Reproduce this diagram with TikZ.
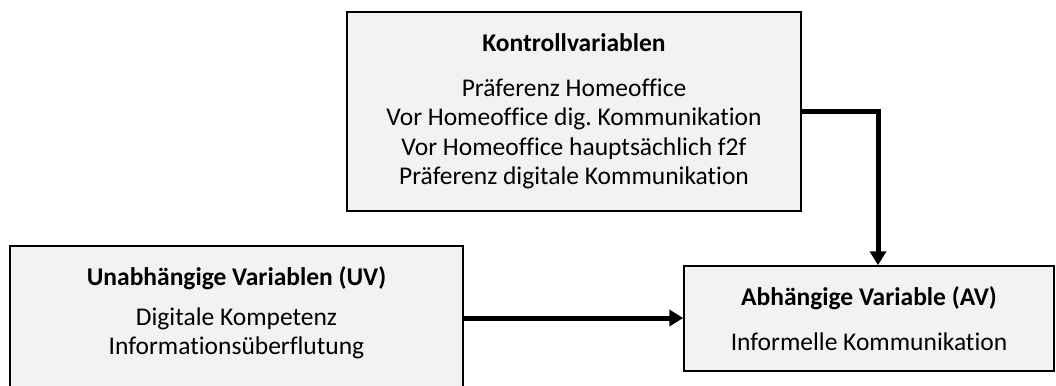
\documentclass[tikz,border=0pt]{standalone}
\usepackage{fontspec}
\setmainfont{Carlito}[Ligatures=NoCommon]
\usetikzlibrary{arrows.meta, positioning, calc}
\definecolor{boxGray}{RGB}{242,242,242}
\tikzset{varBox/.style={shape=rectangle, draw=black, line width=1.5pt, fill=boxGray, align=center, inner sep=0pt, font=\fontsize{25.5}{29.5}\selectfont}}
\tikzset{effectArrow/.style={line width=5pt, -{Triangle[width=16pt,length=14pt]}}}

\begin{document}
\begin{tikzpicture}[x=1pt, y=-1pt]

\useasboundingbox (0,0) rectangle (1056,385);
\clip (0,0) rectangle (1056,385);

% Control variables
\node[varBox, minimum width=454pt, minimum height=199pt] (kv) at (574,111.5)
  {\textbf{Kontrollvariablen}\\[15pt]
   Präferenz Homeoffice\\
   Vor Homeoffice dig.\ Kommunikation\\
   Vor Homeoffice hauptsächlich f2f\\
   Präferenz digitale Kommunikation};

% Independent variables (box runs past the lower edge)
\node[varBox, minimum width=453pt, minimum height=144pt] (uv) at (236.5,318)
  {\textbf{Unabhängige Variablen (UV)}\\[10pt]
   Digitale Kompetenz\\
   Informationsüberflutung\rule[-14pt]{0pt}{14pt}};

% Dependent variable
\node[varBox, minimum width=370pt, minimum height=105pt] (av) at (869,318.5)
  {\textbf{Abhängige Variable (AV)}\\[16pt]
   Informelle Kommunikation};

\draw[effectArrow] (kv.east) -| ([xshift=9pt]av.north);
\draw[effectArrow] (uv.east) -- (uv.east -| av.west);

\end{tikzpicture}
\end{document}
